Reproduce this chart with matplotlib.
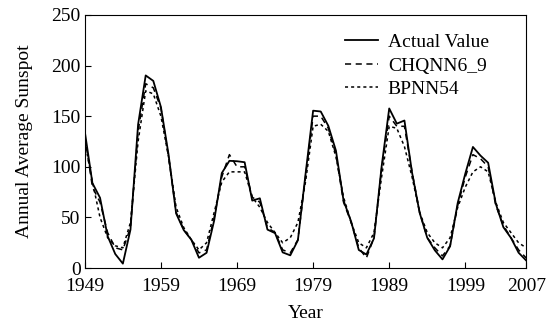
import numpy as np
import matplotlib.pyplot as plt

plt.rcParams['font.family'] = ['Liberation Serif', 'DejaVu Serif']

years = list(range(1949, 2008))

# actual annual average sunspot numbers
actual = [134.7, 83.9, 69.4, 31.5, 13.9, 4.4, 38.0, 141.7, 190.2, 184.8,
          159.0, 112.3, 53.9, 37.5, 27.9, 10.2, 15.1, 47.0, 93.8, 105.9,
          105.5, 104.5, 66.6, 68.9, 38.0, 34.5, 15.5, 12.6, 27.5, 92.5,
          155.4, 154.6, 140.4, 115.9, 66.6, 45.9, 17.9, 13.4, 29.4, 100.2,
          157.6, 142.6, 145.7, 94.3, 54.6, 29.9, 17.5, 8.6, 21.5, 64.3,
          93.3, 119.6, 111.0, 104.0, 63.7, 40.4, 29.8, 15.2, 7.5]

# CHQNN6_9 predictions
chqnn = [130, 80, 65, 35, 20, 18, 40, 135, 182, 178,
         158, 110, 55, 38, 28, 15, 18, 50, 90, 112,
         100, 100, 70, 65, 40, 35, 18, 15, 28, 90,
         150, 150, 138, 112, 65, 45, 20, 10, 30, 98,
         150, 140, 140, 95, 55, 30, 20, 12, 22, 62,
         90, 112, 108, 100, 62, 42, 30, 18, 10]

# BPNN54 predictions
bpnn = [125, 85, 50, 30, 22, 20, 45, 125, 175, 172,
        150, 110, 60, 40, 28, 18, 25, 55, 85, 95,
        95, 95, 70, 60, 45, 35, 25, 30, 45, 85,
        140, 142, 135, 110, 70, 45, 25, 20, 35, 90,
        140, 138, 120, 90, 55, 35, 25, 20, 30, 60,
        80, 95, 100, 95, 65, 45, 35, 25, 20]

xticks = [1949, 1959, 1969, 1979, 1989, 1999, 2007]

fig = plt.figure(figsize=(5.58, 3.23), dpi=100)
ax = fig.add_axes([0.152, 0.170, 0.791, 0.784])

ax.plot(years, actual, color='black', linewidth=1.3, linestyle='-', label='Actual Value')
ax.plot(years, chqnn, color='black', linewidth=1.1, linestyle=(0, (4, 3)), label='CHQNN6_9')
ax.plot(years, bpnn, color='black', linewidth=1.1, linestyle=(0, (2, 2)), label='BPNN54')

ax.set_xlim(1949, 2007)
ax.set_ylim(0, 250)
ax.set_xticks(xticks)
ax.set_yticks(range(0, 251, 50))
ax.tick_params(direction='in', labelsize=14, length=4)
ax.tick_params(axis='x', pad=7)
ax.tick_params(axis='y', pad=3)
ax.set_xlabel('Year', fontsize=14, labelpad=7)
ax.set_ylabel('Annual Average Sunspot', fontsize=14, labelpad=13)

ax.legend(loc='upper right', frameon=False, fontsize=14, handlelength=1.7,
          labelspacing=0.3, handletextpad=0.5, bbox_to_anchor=(0.955, 0.995))

fig.savefig('out.png', dpi=100)
